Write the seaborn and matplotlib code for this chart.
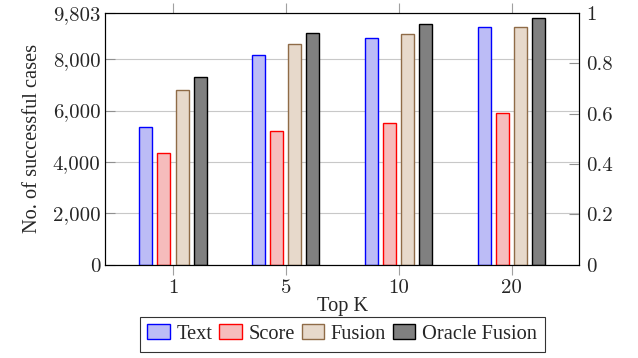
import pandas as pd
import numpy as np
import seaborn as sns
import matplotlib.pyplot as plt

# values
top_k = ['1', '5', '10', '20']
methods = ['Text', 'Score', 'Fusion', 'Oracle Fusion']
text_cases = [5355, 8160, 8820, 9235]
score_cases = [4358, 5212, 5523, 5886]
fusion_cases = [6817, 8600, 8977, 9262]
oracle_cases = [7322, 9029, 9378, 9611]
total = 9803

fills = ['#B3B3FF', '#FFB3B3', '#ECD9C6', '#808080']
edges = ['#0000FF', '#FF0000', '#8F6B47', '#000000']

df = pd.DataFrame({
    'k': top_k * 4,
    'method': np.repeat(methods, len(top_k)),
    'cases': text_cases + score_cases + fusion_cases + oracle_cases,
})

sns.set_style('white')
plt.rcParams['font.family'] = ['Liberation Serif', 'DejaVu Serif']
tick_font = 'cmr10'
fs = 14.7
tfs = 15

fig = plt.figure(figsize=(6.38, 3.58), dpi=100)
ax = fig.add_axes([0.165, 0.26, 0.908 - 0.165, 0.9645 - 0.26])
sns.barplot(data=df, x='k', y='cases', hue='method', order=top_k,
            hue_order=methods, palette=fills, width=0.64, gap=0.28,
            linewidth=1, ax=ax, legend=False)
for cont, ec in zip(ax.containers, edges):
    for p in cont:
        p.set_edgecolor(ec)

ax.set_xlim(-0.6, 3.6)
ax.set_ylim(0, total)
yt = [0, 2000, 4000, 6000, 8000, total]
ax.set_yticks(yt)
ax.set_yticklabels([f'{v:,}' for v in yt], family=tick_font, fontsize=tfs)
ax.set_xticks(range(len(top_k)))
ax.set_xticklabels(top_k, family=tick_font, fontsize=tfs)
ax.yaxis.grid(True, color='#c8c8c8', linewidth=0.8)
ax.set_axisbelow(True)
ax.tick_params(axis='y', direction='in', length=7.5, width=0.8, color='#909090', pad=3.5)
ax.tick_params(axis='x', direction='out', length=7.5, width=0.8, color='#a0a0a0', pad=3,
               top=True, bottom=True)
for s in ax.spines.values():
    s.set_color('black')
    s.set_linewidth(0.8)
ax.set_xlabel('Top K', fontsize=fs, labelpad=0)
ax.set_ylabel('No. of successful cases', fontsize=fs, labelpad=8)

ax2 = ax.twinx()
ax2.set_ylim(0, 1)
rt = [0, 0.2, 0.4, 0.6, 0.8, 1]
ax2.set_yticks(rt)
ax2.set_yticklabels(['0', '0.2', '0.4', '0.6', '0.8', '1'], family=tick_font, fontsize=tfs)
ax2.tick_params(axis='y', direction='in', length=7.5, width=0.8, color='#909090', pad=5)
for s in ax2.spines.values():
    s.set_color('black')
    s.set_linewidth(0.8)

leg = ax.legend(ax.containers, methods, ncol=4, loc='upper center',
                bbox_to_anchor=(0.5, -0.205), fontsize=fs, frameon=True,
                fancybox=False, edgecolor='black', handlelength=1.1,
                handleheight=0.72, handletextpad=0.33, columnspacing=0.33,
                borderpad=0.38, borderaxespad=0)
leg.get_frame().set_linewidth(0.8)

fig.savefig('out.png', dpi=100)
